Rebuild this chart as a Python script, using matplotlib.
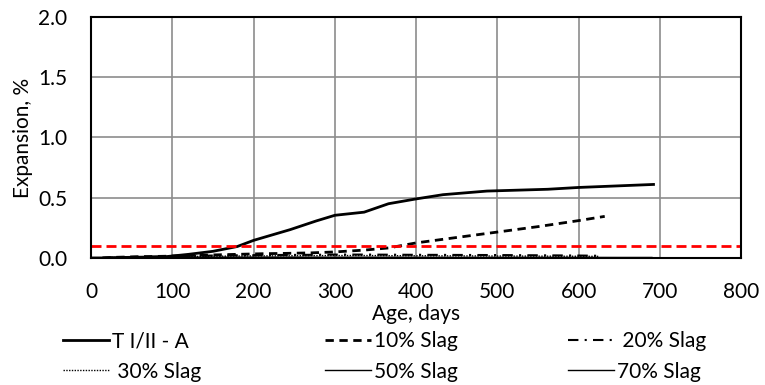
import matplotlib
matplotlib.use("Agg")
import matplotlib.pyplot as plt

plt.rcParams['font.family'] = ['Lato', 'DejaVu Sans']

# data
ctrl_days = [0, 14, 28, 56, 91, 120, 150, 180, 200, 245, 277, 300, 336, 366, 400, 433, 487, 562, 600, 692]
ctrl_exp = [0, 0, 0.003, 0.006, 0.01, 0.03, 0.055, 0.095, 0.146, 0.235, 0.307, 0.354, 0.38, 0.45, 0.49, 0.525, 0.555, 0.57, 0.585, 0.61]

s10_days = [14, 28, 56, 91, 120, 150, 180, 210, 240, 270, 300, 336, 366, 400, 450, 500, 550, 600, 632]
s10_exp = [0, 0.005, 0.01, 0.014, 0.02, 0.025, 0.03, 0.035, 0.038, 0.042, 0.05, 0.065, 0.083, 0.125, 0.17, 0.215, 0.26, 0.31, 0.345]

s20_days = [14, 28, 56, 91, 120, 150, 180, 210, 240, 270, 300, 336, 366, 400, 450, 500, 550, 600, 625]
s20_exp = [0, 0.004, 0.008, 0.012, 0.016, 0.02, 0.022, 0.024, 0.025, 0.026, 0.028, 0.028, 0.027, 0.026, 0.025, 0.024, 0.022, 0.02, 0.018]

s30_days = [14, 28, 56, 91, 120, 150, 180, 210, 240, 270, 300, 336, 366, 400, 450, 500, 550, 600, 625]
s30_exp = [0, 0.003, 0.006, 0.009, 0.012, 0.014, 0.016, 0.017, 0.018, 0.019, 0.02, 0.02, 0.019, 0.018, 0.017, 0.016, 0.015, 0.014, 0.013]

s50_days = [14, 56, 120, 180, 240, 300, 366, 450, 550, 650, 690]
s50_exp = [0, 0.004, 0.006, 0.007, 0.007, 0.006, 0.006, 0.005, 0.005, 0.004, 0.004]

s70_days = [14, 56, 120, 180, 240, 300, 366, 450, 550, 650, 690]
s70_exp = [0, 0.001, 0.002, 0.002, 0.002, 0.002, 0.001, 0.001, 0.001, 0.001, 0.001]

limit = 0.1

fig = plt.figure(figsize=(7.65, 3.85), dpi=100)
ax = fig.add_axes([0.119, 0.33, 0.85, 0.626])

l1, = ax.plot(ctrl_days, ctrl_exp, color='black', lw=2.0, label='T I/II - A')
l2, = ax.plot(s10_days, s10_exp, color='black', lw=2.0, ls=(0, (3, 2)), label='10% Slag')
l3, = ax.plot(s20_days, s20_exp, color='black', lw=1.5, ls=(0, (5, 3, 1, 3)), label=' 20% Slag')
l4, = ax.plot(s30_days, s30_exp, color='black', lw=1.0, ls=(0, (1, 1)), label=' 30% Slag')
l5, = ax.plot(s50_days, s50_exp, color='black', lw=1.0, label='50% Slag')
l6, = ax.plot(s70_days, s70_exp, color='black', lw=1.0, label='70% Slag')
ax.axhline(limit, color='red', lw=2.0, ls=(0, (3.6, 1.8)))

ax.set_xlim(0, 800)
ax.set_ylim(0, 2.0)
ax.set_xticks(range(0, 801, 100))
ax.set_yticks([0, 0.5, 1.0, 1.5, 2.0])
ax.set_yticklabels(['0.0', '0.5', '1.0', '1.5', '2.0'])
ax.grid(True, color='#8c8c8c', lw=1.2)
ax.set_axisbelow(True)
ax.tick_params(length=0, labelsize=15)
ax.tick_params(axis='x', pad=17)
ax.tick_params(axis='y', pad=17)
for s in ax.spines.values():
    s.set_color('black')
    s.set_linewidth(1.5)

ax.set_xlabel('Age, days', fontsize=15, labelpad=2)
ax.set_ylabel('Expansion, %', fontsize=15, labelpad=4)

# one legend per column, placed like the reference
cols = [([l1, l4], 63), ([l2, l5], 325), ([l3, l6], 568)]
for hs, xpix in cols:
    fig.legend(hs, [h.get_label() for h in hs], loc='upper left',
               bbox_to_anchor=(xpix / 765, 0.139), frameon=False,
               fontsize=15, handlelength=2.2, handletextpad=0.15,
               labelspacing=0.49, borderpad=0, borderaxespad=0)

fig.savefig('out.png', dpi=100)
